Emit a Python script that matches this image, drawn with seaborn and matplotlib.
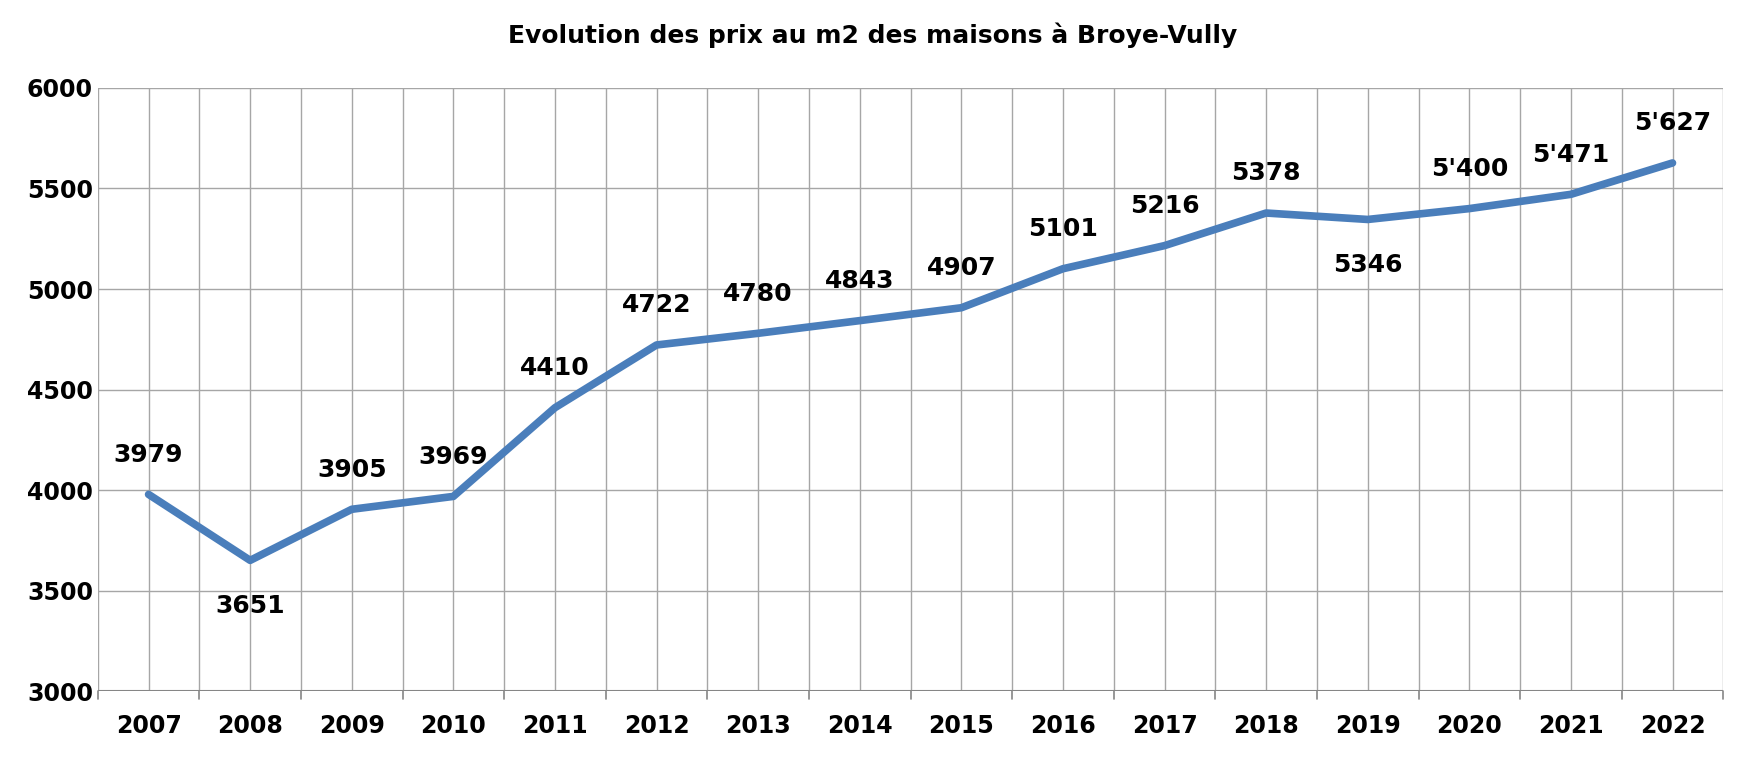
import matplotlib
matplotlib.use("Agg")
import matplotlib.pyplot as plt
import seaborn as sns
import numpy as np
import pandas as pd

#data
years = ['2007', '2008', '2009', '2010', '2011', '2012', '2013', '2014',
         '2015', '2016', '2017', '2018', '2019', '2020', '2021', '2022']
prices = [3979, 3651, 3905, 3969, 4410, 4722, 4780, 4843,
          4907, 5101, 5216, 5378, 5346, 5400, 5471, 5627]
labels = ['3979', '3651', '3905', '3969', '4410', '4722', '4780', '4843',
          '4907', '5101', '5216', '5378', '5346', "5'400", "5'471", "5'627"]
below = ['2008', '2019']

df = pd.DataFrame({'year': years, 'price': prices})

sns.set_style("white")
plt.rcParams['font.family'] = 'DejaVu Sans'
plt.rcParams['text.color'] = 'black'
plt.rcParams['xtick.color'] = 'black'
plt.rcParams['ytick.color'] = 'black'
fig, ax = plt.subplots(figsize=(17.46, 7.58), dpi=100)
fig.subplots_adjust(left=0.056, right=0.987, top=0.884, bottom=0.088)

x = np.arange(len(years))
sns.lineplot(data=df, x=x, y='price', color='#4A7EBB', linewidth=5.5,
             solid_capstyle='round', ax=ax)

#data labels
for i in range(len(years)):
    if years[i] in below:
        ax.annotate(labels[i], (x[i], prices[i]), xytext=(0, -24), textcoords='offset points',
                    ha='center', va='top', fontsize=18, fontweight='bold')
    else:
        ax.annotate(labels[i], (x[i], prices[i]), xytext=(0, 20), textcoords='offset points',
                    ha='center', va='bottom', fontsize=18, fontweight='bold')

ax.set_xlim(-0.5, len(years) - 0.5)
ax.set_ylim(3000, 6000)
ax.set_yticks(range(3000, 6001, 500))
ax.set_xticks(x)
ax.set_xticklabels(years, fontsize=17, fontweight='bold')
ax.tick_params(axis='y', labelsize=17, length=0)
for lab in ax.get_yticklabels():
    lab.set_fontweight('bold')
ax.tick_params(axis='x', length=0, pad=16)

#grid: horizontal lines plus vertical at centres and boundaries
for v in np.arange(-0.5, len(years), 0.5):
    ax.axvline(v, color='#A6A6A6', linewidth=1, zorder=0)
for h in range(3000, 6001, 500):
    ax.axhline(h, color='#A6A6A6', linewidth=1, zorder=0)
ax.axhline(3000, color='#868686', linewidth=1.5, zorder=0)
#small tick marks on the category boundaries
for v in np.arange(-0.5, len(years), 1):
    ax.plot([v, v], [3000, 2960], color='#868686', linewidth=1.2, clip_on=False)

for s in ax.spines.values():
    s.set_visible(False)
ax.set_xlabel('')
ax.set_ylabel('')
fig.suptitle('Evolution des prix au m2 des maisons à Broye-Vully', fontsize=18,
             fontweight='bold', x=0.5, y=0.97)

plt.savefig('out.png', dpi=100)
